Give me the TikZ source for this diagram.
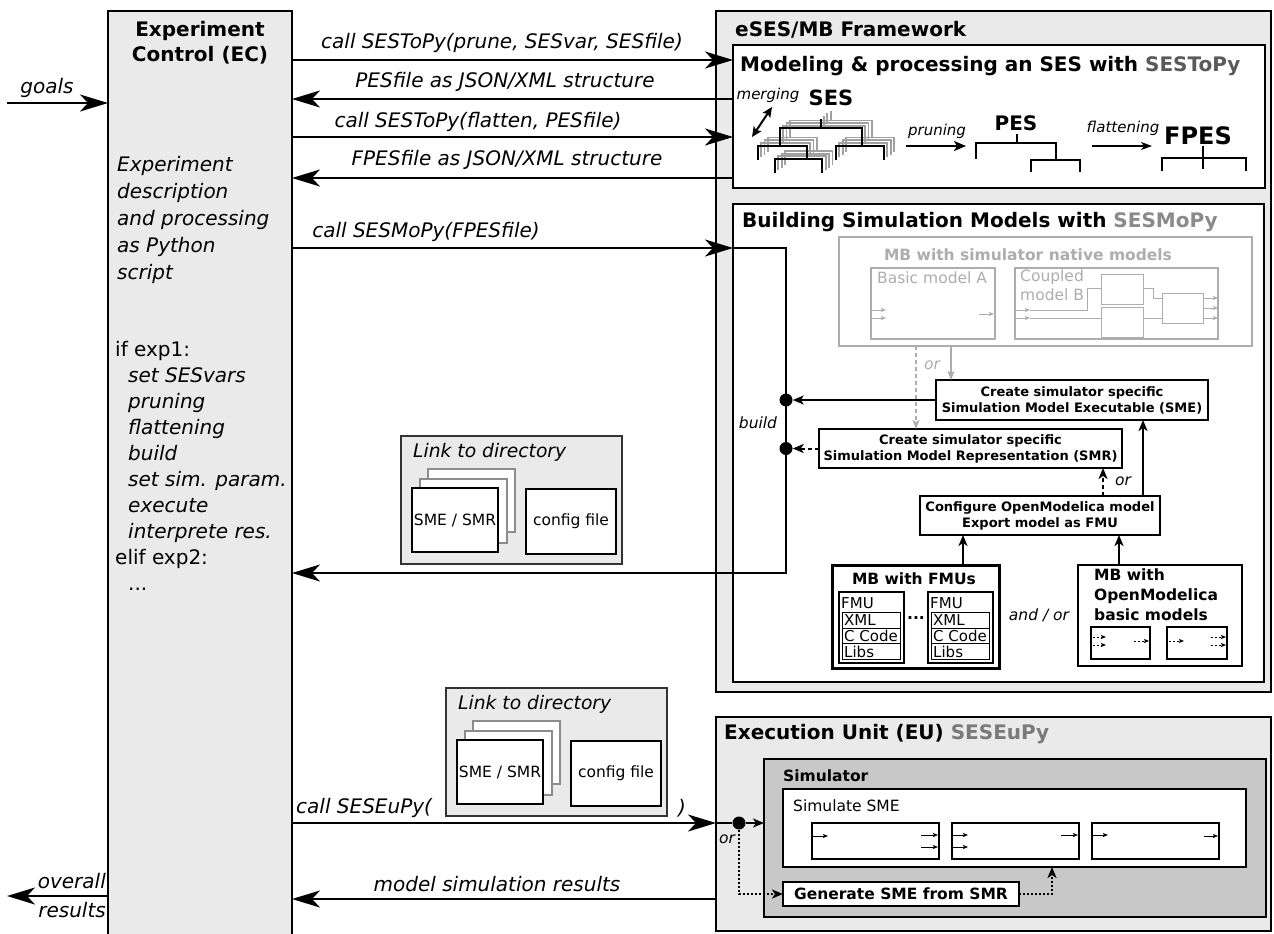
\documentclass[tikz,border=0pt]{standalone}
\usepackage{fontspec}
\setmainfont{DejaVu Sans}
\usetikzlibrary{arrows.meta,calc}
\definecolor{lightfill}{HTML}{EAEAEA}
\definecolor{simfill}{HTML}{C8C8C8}
\definecolor{gToPy}{HTML}{5A5A5A}
\definecolor{gMoPy}{HTML}{8A8A8A}
\definecolor{gEuPy}{HTML}{7A7A7A}
\definecolor{natgray}{HTML}{ADADAD}
\definecolor{sheetgray}{HTML}{8C8C8C}
\definecolor{treegray}{HTML}{A0A0A0}
\newcommand\szL{\fontsize{20}{25}\selectfont}
\newcommand\szM{\fontsize{15.5}{19}\selectfont}
\newcommand\szS{\fontsize{13}{16}\selectfont}
\newcommand\sestree{%
  \draw (820.6,118.5) -- (820.6,128.4);
  \draw (779.7,145.5) -- (779.7,128.4) -- (861.8,128.4) -- (861.8,145.5);
  \draw (757.8,160) -- (757.8,145.5) -- (806.7,145.5) -- (806.7,158.9);
  \draw (775,173) -- (775,158.9) -- (822.4,158.9) -- (822.4,173);
  \draw (835.9,160) -- (835.9,145.5) -- (884,145.5) -- (884,160);
}
\tikzset{
  box/.style={draw, line width=2pt, anchor=north west, inner sep=0pt, outer sep=0pt, align=center},
  lbl/.style={inner sep=0pt, font=\szL\itshape},
  bigarrow/.style={line width=2pt, -{Stealth[length=28pt,width=17pt,inset=8pt]}},
  smallarrow/.style={line width=2pt, -{Stealth[length=11pt,width=9pt,inset=3pt]}},
  tinyarrow/.style={line width=1pt, -{Stealth[length=5pt,width=4pt,inset=1pt]}},
  dotnode/.style={circle, fill, inner sep=0pt, minimum size=13pt},
  dashline/.style={dash pattern=on 4pt off 3pt},
  dotline/.style={dash pattern=on 2pt off 2pt},
}
\begin{document}
\begin{tikzpicture}[x=1pt,y=-1pt]
\useasboundingbox (0,0) rectangle (1274,934);

% ---------------- Experiment Control
\node[box, fill=lightfill, minimum width=184pt, minimum height=945pt] (ec) at (108,11) {};
\node[font=\szL\bfseries, align=center, inner sep=0] (ectitle) at (200,43) {Experiment\\Control (EC)};
\node[font=\fontsize{20}{27}\selectfont\itshape, align=left, anchor=west, inner sep=0] (ecdesc) at (117,220)
  {Experiment\\description\\and processing\\as Python\\script};
\node[font=\fontsize{20}{26}\selectfont, align=left, anchor=west, inner sep=0] (eccode) at (115,466)
  {if exp1:\\\hspace*{13pt}\textit{set SESvars}\\\hspace*{13pt}\textit{pruning}\\\hspace*{13pt}\textit{flattening}\\
   \hspace*{13pt}\textit{build}\\\hspace*{13pt}\textit{set sim. param.}\\\hspace*{13pt}\textit{execute}\\
   \hspace*{13pt}\textit{interprete res.}\\elif exp2:\\\hspace*{13pt}...};

\coordinate (goalsin) at (7,103);
\draw[bigarrow] (goalsin) -- (ec.west |- goalsin);
\node[lbl] (tgoals) at (47,88) {goals};
\coordinate (ovout) at (7,896);
\draw[bigarrow] (ec.west |- ovout) -- (ovout);
\node[lbl, anchor=east] (tover) at (106,881) {overall};
\node[lbl, anchor=east] (tres) at (106,910) {results};

% ---------------- eSES/MB Framework
\node[box, fill=lightfill, minimum width=555pt, minimum height=681pt] (eses) at (716,11) {};
\node[font=\szL\bfseries, anchor=west, inner sep=0] (tes) at (735,30) {eSES/MB Framework};

\node[box, fill=white, minimum width=532pt, minimum height=143pt] (model) at (733,45) {};
\node[font=\szL\bfseries, anchor=west, inner sep=0] (tmodel) at (740,66) {Modeling \& processing an SES with \textcolor{gToPy}{SESToPy}};

\coordinate (yA) at (0,60);
\coordinate (yB) at (0,99);
\coordinate (yC) at (0,137);
\coordinate (yD) at (0,178);
\draw[bigarrow] (ec.east |- yA) -- (model.west |- yA);
\node[lbl] (la) at (502,43) {call SESToPy(prune, SESvar, SESfile)};
\draw[bigarrow] (model.west |- yB) -- (ec.east |- yB);
\node[lbl] (lb) at (505,82) {PESfile as JSON/XML structure};
\draw[bigarrow] (ec.east |- yC) -- (model.west |- yC);
\node[lbl] (lc) at (478,122) {call SESToPy(flatten, PESfile)};
\draw[bigarrow] (model.west |- yD) -- (ec.east |- yD);
\node[lbl] (ld) at (507,160) {FPESfile as JSON/XML structure};

% SES trees
\begin{scope}[treegray, line width=1.8pt, shift={(10,-8)}] \sestree \end{scope}
\begin{scope}[treegray, line width=1.8pt, shift={(6.7,-5.3)}] \sestree \end{scope}
\begin{scope}[treegray, line width=1.8pt, shift={(3.3,-2.7)}] \sestree \end{scope}
\begin{scope}[black, line width=2pt] \sestree \end{scope}
\draw[line width=2pt, {Stealth[length=10pt,width=9pt,inset=2pt]}-{Stealth[length=10pt,width=9pt,inset=2pt]}] (752,137) -- (772,107);
\node[font=\fontsize{15}{18}\selectfont\itshape, inner sep=0] (tmerg) at (768,95) {merging};
\node[font=\fontsize{21}{25}\selectfont\bfseries, inner sep=0] (tses) at (831,98) {SES};

\node[font=\fontsize{15}{18}\selectfont\itshape, inner sep=0] (tprun) at (937,131) {pruning};
\draw[line width=2.5pt, -{Stealth[length=12pt,width=10pt,inset=3pt]}] (906,146) -- (966,146);
\node[font=\szL\bfseries, inner sep=0] (tpes) at (1016,123) {PES};
\begin{scope}[line width=2pt]
  \draw (1016.6,134.3) -- (1016.6,142.5);
  \draw (975.7,158.9) -- (975.7,142.5) -- (1056,142.5) -- (1056,159.5);
  \draw (1031,172) -- (1031,159.5) -- (1079.7,159.5) -- (1079.7,172);
\end{scope}
\node[font=\fontsize{15}{18}\selectfont\itshape, inner sep=0] (tflat) at (1123,128) {flattening};
\draw[line width=1.5pt, -{Stealth[length=11pt,width=8pt,inset=3pt]}] (1092,146) -- (1152,146);
\node[font=\fontsize{24}{28}\selectfont\bfseries, inner sep=0] (tfpes) at (1198,136) {FPES};
\begin{scope}[line width=2pt]
  \draw (1162,171) -- (1162,158) -- (1246,158) -- (1246,171);
  \draw (1203,146) -- (1203,169);
\end{scope}

% ---------------- Building box
\node[box, fill=white, minimum width=531pt, minimum height=478pt] (build) at (733,204) {};
\node[font=\szL\bfseries, anchor=west, inner sep=0] (tbuild) at (742,222) {Building Simulation Models with \textcolor{gMoPy}{SESMoPy}};

% native models
\node[box, draw=natgray, fill=white, minimum width=413pt, minimum height=109pt] (native) at (839,237) {};
\node[font=\szM\bfseries, text=natgray, inner sep=0] (tnat) at (1028,255) {MB with simulator native models};
\node[box, draw=natgray, line width=1.5pt, minimum width=124pt, minimum height=71pt] (basicA) at (871,268) {};
\node[font=\szM, text=natgray, anchor=north west, inner sep=0] (tbasic) at (877,272) {Basic model A};
\node[box, draw=natgray, line width=1.5pt, minimum width=203pt, minimum height=71pt] (coupB) at (1015,268) {};
\node[font=\szM, text=natgray, anchor=north west, align=left, inner sep=0] (tcoup) at (1020,270) {Coupled\\model B};
\node[box, draw=natgray, line width=1pt, minimum width=42pt, minimum height=30pt] (cb1) at (1101,274) {};
\node[box, draw=natgray, line width=1pt, minimum width=42pt, minimum height=30pt] (cb2) at (1101,307) {};
\node[box, draw=natgray, line width=1pt, minimum width=41pt, minimum height=30pt] (cb3) at (1162,293) {};
\begin{scope}[natgray]
  \draw[tinyarrow] (871,310) -- (886,310);
  \draw[tinyarrow] (871,318) -- (886,318);
  \draw[tinyarrow] (979,314) -- (994,314);
  \draw[tinyarrow] (1015,310) -- (1030,310);
  \draw[tinyarrow] (1015,318) -- (1030,318);
  \draw[line width=1pt] (1030,310) -- (1087,310) -- (1087,288) -- (1101,288);
  \draw[line width=1pt] (1030,318) -- (1101,318);
  \draw[line width=1pt] (1143,288) -- (1153,288) -- (1153,298) -- (1162,298);
  \draw[line width=1pt] (1143,318) -- (1162,318);
  \draw[tinyarrow] (1203,298) -- (1218,298);
  \draw[tinyarrow] (1203,308) -- (1218,308);
  \draw[tinyarrow] (1203,318) -- (1218,318);
\end{scope}

% SME / SMR / Configure
\node[box, fill=white, minimum width=272pt, minimum height=40pt, font=\szS\bfseries] (sme) at (936,380)
  {Create simulator specific\\Simulation Model Executable (SME)};
\node[box, fill=white, minimum width=303pt, minimum height=39pt, font=\szS\bfseries] (smr) at (819,429)
  {Create simulator specific\\Simulation Model Representation (SMR)};
\node[box, fill=white, minimum width=240pt, minimum height=39pt, font=\szS\bfseries] (conf) at (920,496)
  {Configure OpenModelica model\\Export model as FMU};

\coordinate (xOr1) at (916,0);
\coordinate (xOr2) at (951,0);
\draw[natgray, dashline, line width=1.5pt, -{Stealth[length=9pt,width=7pt,inset=2pt]}] (native.south -| xOr1) -- (smr.north -| xOr1);
\draw[natgray, line width=1.5pt, -{Stealth[length=9pt,width=7pt,inset=2pt]}] (native.south -| xOr2) -- (sme.north -| xOr2);
\node[font=\szM\itshape, text=natgray, inner sep=0] (tor1) at (932,365) {or};

\coordinate (busT) at (786,248);
\coordinate (busB) at (786,573);
\draw[bigarrow] (ec.east |- busT) -- (build.west |- busT);
\node[lbl] (le) at (426,232) {call SESMoPy(FPESfile)};
\draw[bigarrow] (build.west |- busT) -- (busT) -- (busB) -- (ec.east |- busB);
\node[dotnode] (d1) at (786,400) {};
\node[dotnode] (d2) at (786,448.5) {};
\draw[smallarrow] (sme.west) -- (d1.east);
\draw[smallarrow, dashline] (smr.west) -- (d2.east);
\node[font=\szM\itshape, inner sep=0] (tbuildlbl) at (758,423) {build};

\coordinate (xC1) at (1103,0);
\coordinate (xC2) at (1143,0);
\draw[smallarrow, dashline] (conf.north -| xC1) -- (smr.south -| xC1);
\draw[smallarrow] (conf.north -| xC2) -- (sme.south -| xC2);
\node[font=\szM\itshape, inner sep=0] (tor2) at (1123,481) {or};

% MB with FMUs
\node[box, line width=3pt, minimum width=167pt, minimum height=103pt] (fmus) at (832,565) {};
\node[font=\szM\bfseries, inner sep=0] (tfmus) at (914,579) {MB with FMUs};
\node[box, minimum width=65pt, minimum height=71pt] (fmuA) at (839,592) {};
\node[box, minimum width=65pt, minimum height=71pt] (fmuB) at (928,592) {};
\foreach \dx/\nm in {0/A,89/B}{
  \begin{scope}[shift={(\dx,0)}]
    \draw[line width=1pt] (842.5,612.5) rectangle (900.5,628) (842.5,628) rectangle (900.5,643.5) (842.5,643.5) rectangle (900.5,659);
    \node[font=\fontsize{15}{18}\selectfont, anchor=west, inner sep=0] (fmut\nm) at (841,603) {FMU};
    \node[font=\fontsize{15}{18}\selectfont, anchor=west, inner sep=0] (xml\nm) at (844,620.5) {XML};
    \node[font=\fontsize{15}{18}\selectfont, anchor=west, inner sep=0] (cc\nm) at (844,636) {C Code};
    \node[font=\fontsize{15}{18}\selectfont, anchor=west, inner sep=0] (lib\nm) at (844,651.5) {Libs};
  \end{scope}
}
\node[font=\szM\bfseries, inner sep=0] (tdots) at (916,618) {...};
\coordinate (xF) at (963,0);
\draw[smallarrow] (fmus.north -| xF) -- (conf.south -| xF);
\node[font=\szM\itshape, inner sep=0] (tandor) at (1039,615) {and / or};

% MB with OpenModelica
\node[box, line width=2.5pt, minimum width=164pt, minimum height=101pt] (om) at (1078,565) {};
\node[font=\fontsize{15.5}{20}\selectfont\bfseries, anchor=north west, align=left, inner sep=0] (tom) at (1094,569)
  {MB with\\OpenModelica\\basic models};
\node[box, minimum width=59pt, minimum height=32pt] (omA) at (1091,627) {};
\node[box, minimum width=60pt, minimum height=32pt] (omB) at (1167,627) {};
\draw[tinyarrow, dotline] (1093,637) -- (1106,637);
\draw[tinyarrow, dotline] (1093,645) -- (1106,645);
\draw[tinyarrow, dotline] (1134,641) -- (1149,641);
\draw[tinyarrow, dotline] (1169,641) -- (1184,641);
\draw[tinyarrow, dotline] (1211,637) -- (1226,637);
\draw[tinyarrow, dotline] (1211,645) -- (1226,645);
\coordinate (xO) at (1119,0);
\draw[smallarrow] (om.north -| xO) -- (conf.south -| xO);

% ---------------- Link to directory (upper)
\node[box, line width=1.5pt, draw=black!80, fill=lightfill, minimum width=221pt, minimum height=128pt] (linkA) at (401,436) {};
\node[font=\fontsize{18.7}{22}\selectfont\itshape, anchor=west, inner sep=0] (tlinkA) at (413,452) {Link to directory};
\draw[sheetgray, line width=2pt, fill=white] (428,469) rectangle (515,532);
\draw[sheetgray, line width=2pt, fill=white] (420,479) rectangle (507,543);
\node[box, fill=white, minimum width=86pt, minimum height=64pt, font=\szM] (smeA) at (412,488) {SME / SMR};
\node[box, fill=white, minimum width=90pt, minimum height=65pt, font=\szM] (cfgA) at (526,489) {config file};

% ---------------- Link to directory (lower)
\begin{scope}[shift={(45,252)}]
\node[box, line width=1.5pt, draw=black!80, fill=lightfill, minimum width=221pt, minimum height=128pt] (linkB) at (401,436) {};
\node[font=\fontsize{18.7}{22}\selectfont\itshape, anchor=west, inner sep=0] (tlinkB) at (413,452) {Link to directory};
\draw[sheetgray, line width=2pt, fill=white] (428,469) rectangle (515,532);
\draw[sheetgray, line width=2pt, fill=white] (420,479) rectangle (507,543);
\node[box, fill=white, minimum width=86pt, minimum height=64pt, font=\szM] (smeB) at (412,488) {SME / SMR};
\node[box, fill=white, minimum width=90pt, minimum height=65pt, font=\szM] (cfgB) at (526,489) {config file};
\end{scope}

% ---------------- Execution Unit
\node[box, fill=lightfill, minimum width=555pt, minimum height=214pt] (eu) at (716,717) {};
\node[font=\szL\bfseries, anchor=west, inner sep=0] (teu) at (724,734) {Execution Unit (EU) \textcolor{gEuPy}{SESEuPy}};
\node[box, fill=simfill, minimum width=502pt, minimum height=158pt] (simr) at (764,759) {};
\node[font=\szM\bfseries, anchor=west, inner sep=0] (tsimr) at (783,776) {Simulator};
\node[box, fill=white, minimum width=463pt, minimum height=78pt] (simsme) at (783,789) {};
\node[font=\szM, anchor=west, inner sep=0] (tsimsme) at (793,806) {Simulate SME};
\node[box, minimum width=127pt, minimum height=36pt] (b1) at (812,823) {};
\node[box, minimum width=127pt, minimum height=36pt] (b2) at (952,823) {};
\node[box, minimum width=127pt, minimum height=36pt] (b3) at (1092,823) {};
\draw[tinyarrow] (813,836) -- (828,836);
\draw[tinyarrow] (921,835) -- (938,835);
\draw[tinyarrow] (921,847) -- (938,847);
\draw[tinyarrow] (953,835) -- (968,835);
\draw[tinyarrow] (953,847) -- (968,847);
\draw[tinyarrow] (1061,835) -- (1078,835);
\draw[tinyarrow] (1093,835) -- (1108,835);
\draw[tinyarrow] (1204,836) -- (1218,836);
\node[box, fill=white, minimum width=236pt, minimum height=24pt, font=\szM\bfseries] (gen) at (783,882) {Generate SME from SMR};

\node[dotnode] (d3) at (739,823) {};
\coordinate (yEU) at (0,823);
\draw[bigarrow] (ec.east |- yEU) -- (eu.west |- yEU);
\node[lbl, anchor=west] (lf) at (296,808) {call SESEuPy(};
\node[lbl] (lf2) at (682,808) {)};
\draw[line width=2pt] (eu.west |- d3) -- (d3);
\draw[smallarrow] (d3) -- (simr.west |- d3);
\draw[smallarrow, dotline] (d3) |- (gen.west);
\coordinate (xG) at (1052,0);
\draw[smallarrow, dotline] (gen.east) -| (simsme.south -| xG);
\node[font=\szM\itshape, inner sep=0] (tor3) at (727,839) {or};

\coordinate (yRes) at (0,899);
\draw[bigarrow] (eu.west |- yRes) -- (ec.east |- yRes);
\node[lbl] (lg) at (497,884) {model simulation results};
\end{tikzpicture}
\end{document}
